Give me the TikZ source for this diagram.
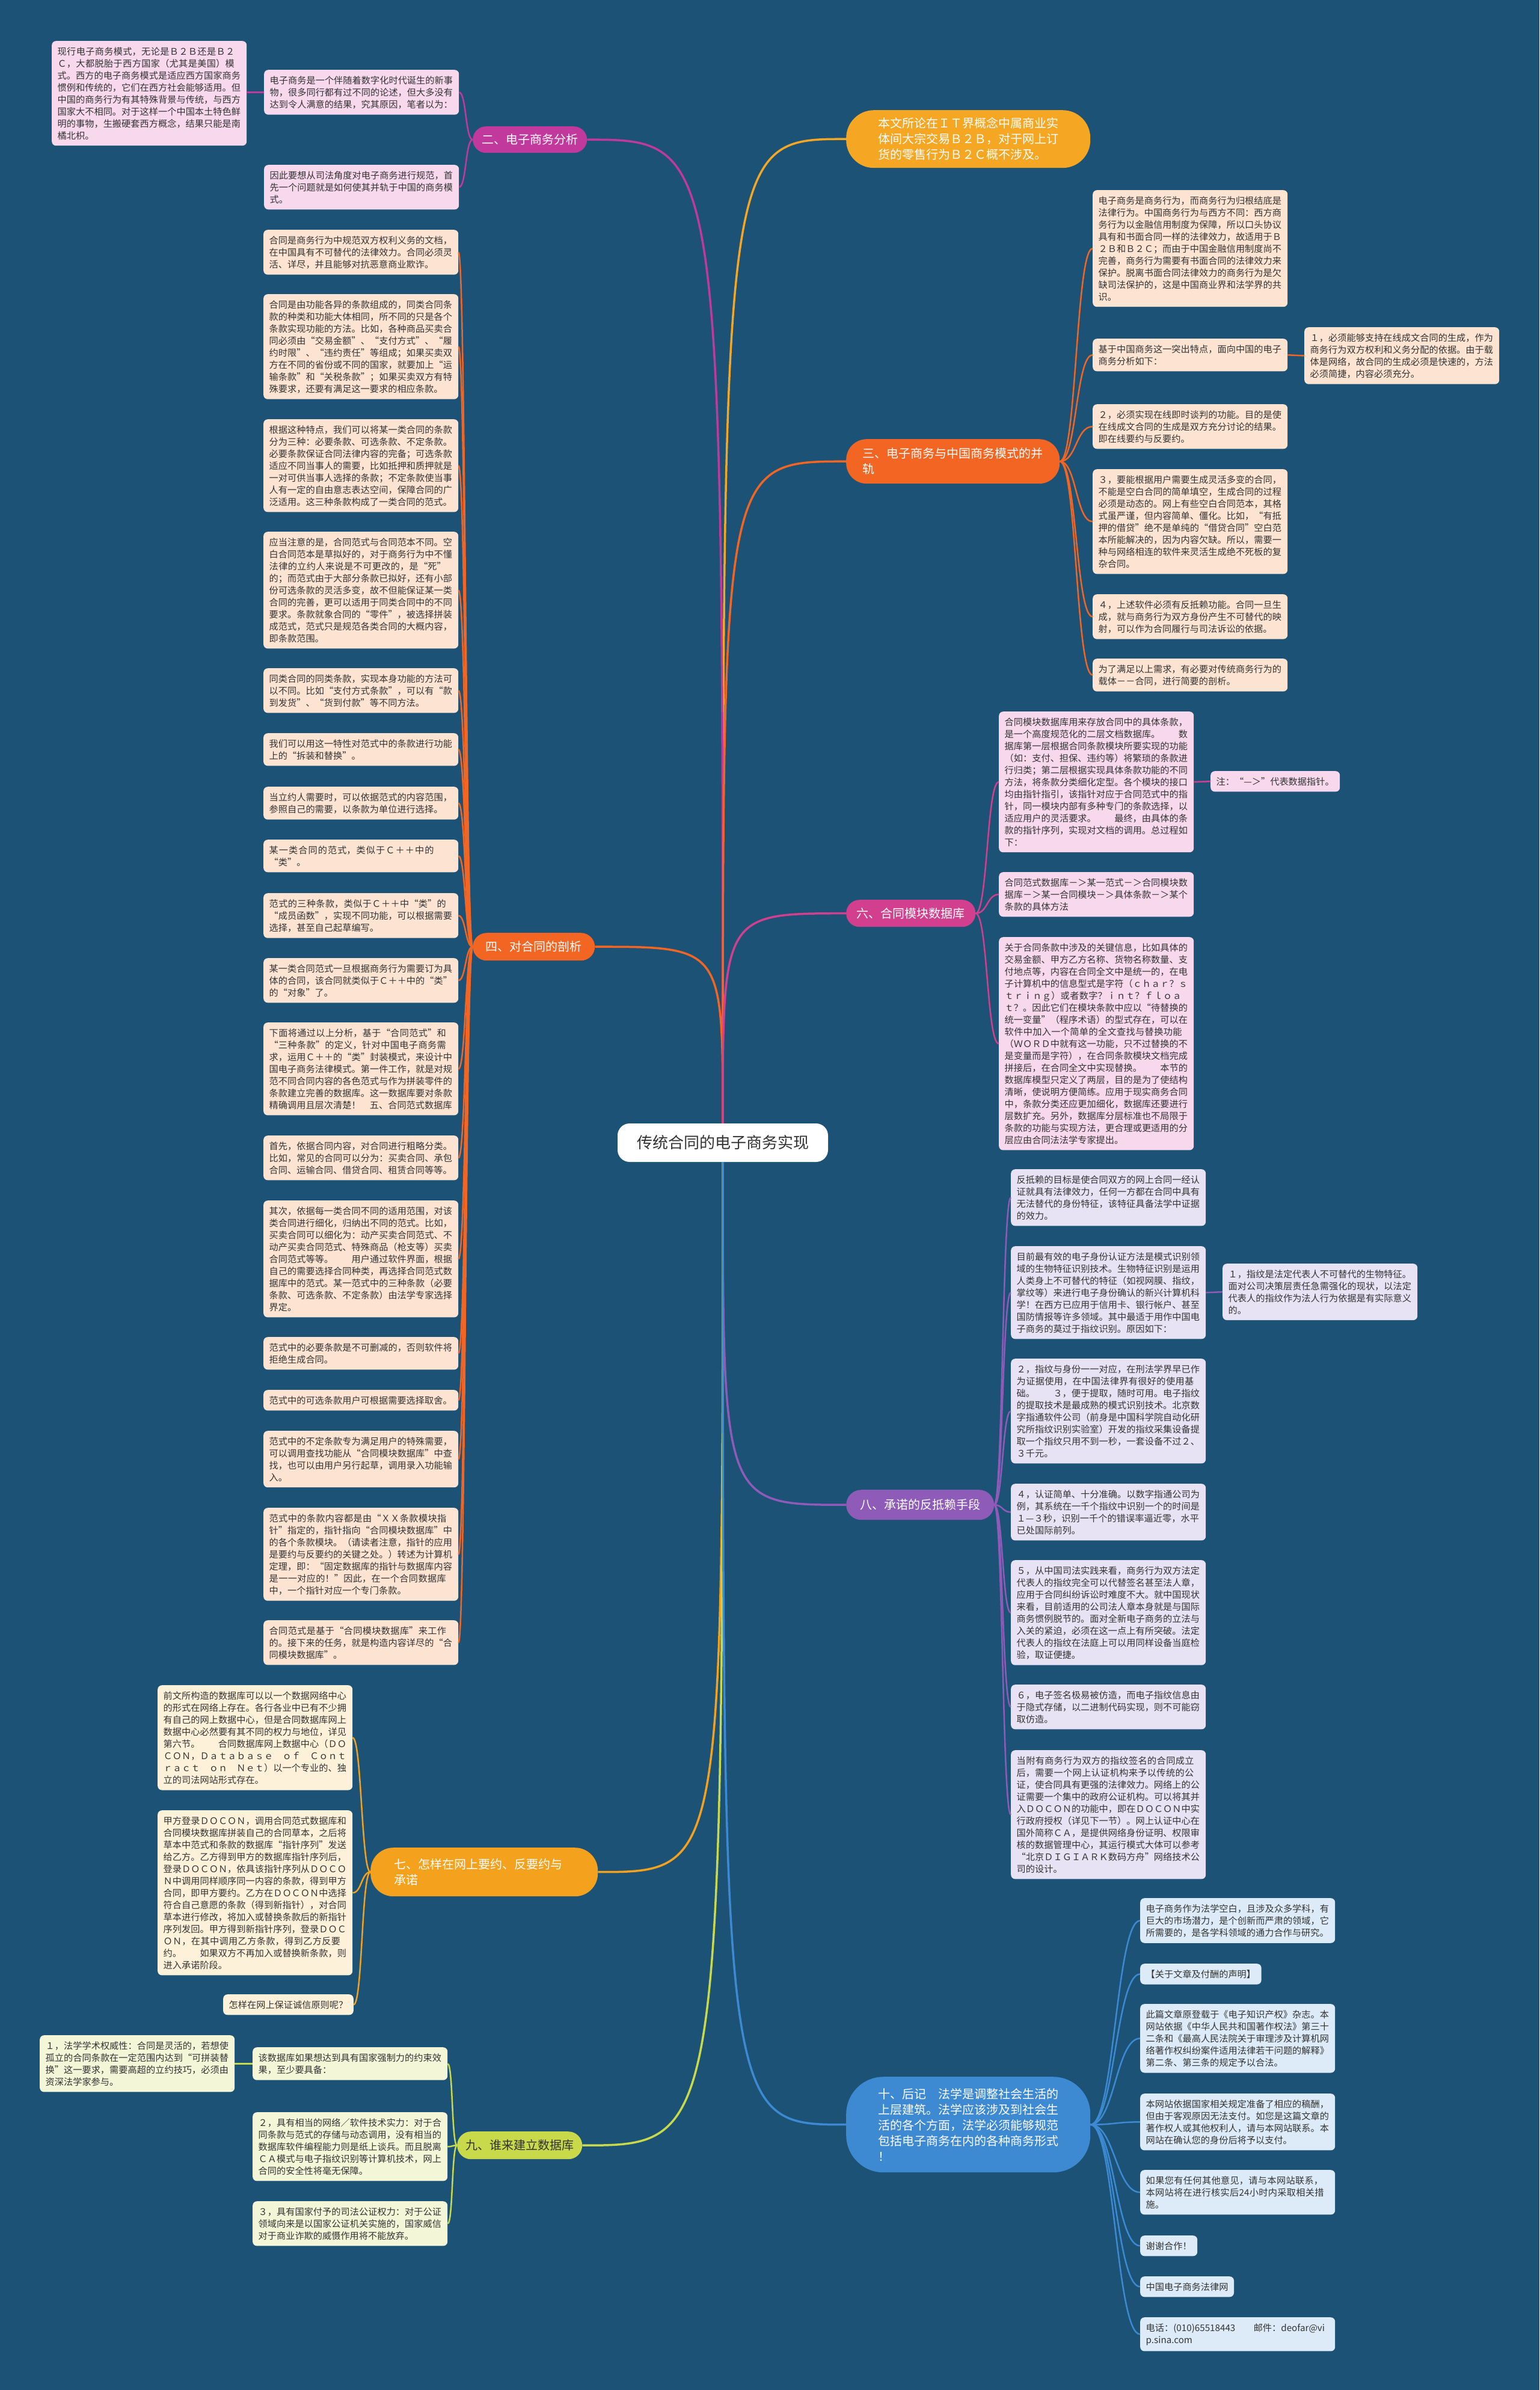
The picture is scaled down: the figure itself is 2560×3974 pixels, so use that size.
\documentclass[tikz,border=0pt]{standalone}
\usepackage{fontspec}
\setmainfont{Noto Sans CJK SC}
\XeTeXlinebreaklocale "zh"
\XeTeXlinebreakskip = 0pt plus 1pt

\definecolor{bgblue}{HTML}{1B5276}
\definecolor{magA}{HTML}{C2399D}
\definecolor{magB}{HTML}{D23F8E}
\definecolor{amber}{HTML}{F5A623}
\definecolor{orangeA}{HTML}{F26522}
\definecolor{purpleA}{HTML}{8E5CB8}
\definecolor{gold}{HTML}{F4A21E}
\definecolor{lime}{HTML}{C8D94A}
\definecolor{skyA}{HTML}{3D8AD3}
\definecolor{pinkfill}{HTML}{F7D8EC}
\definecolor{peachfill}{HTML}{FDE4D2}
\definecolor{lavfill}{HTML}{E7E3F4}
\definecolor{creamfill}{HTML}{FEF1D9}
\definecolor{limefill}{HTML}{F4F6D8}
\definecolor{bluefill}{HTML}{DDEBF8}
\definecolor{inkgray}{HTML}{333333}

\begin{document}
\begin{tikzpicture}[
    x=1pt, y=-1pt,
    root/.style={
        fill=white, text=inkgray, rounded corners=20pt,
        minimum width=350pt, minimum height=64pt,
        font=\fontsize{26}{30}\selectfont
    },
    topic/.style={
        fill=#1, text=white, anchor=north west, inner sep=0pt,
        align=center, font=\fontsize{20}{26}\selectfont
    },
    leaf/.style={
        fill=#1, text=inkgray, anchor=north west, rounded corners=7pt,
        inner xsep=9.5pt, inner ysep=10pt,
        font=\fontsize{15.2}{20}\selectfont
    },
    leafw/.style={leaf=#1, text width=305pt, align=left},
    link/.style={draw=#1, line width=3.5pt},
    sublink/.style={draw=#1, line width=2.5pt}
]

\useasboundingbox (0,0) rectangle (2560,3974);
\fill[bgblue] (0,0) rectangle (2560,3974);

% Nodo central
\node[root] (root) at (1202,1900) {传统合同的电子商务实现};

% Ramas principales
\node[topic=magA, minimum width=190pt, minimum height=44pt, rounded corners=22pt] (t2) at (786,210) {二、电子商务分析};
\node[topic=amber, minimum width=406pt, minimum height=96pt, rounded corners=46pt, text width=300pt, align=left] (t1) at (1407,183) {本文所论在ＩＴ界概念中属商业实\\体间大宗交易Ｂ２Ｂ，对于网上订\\货的零售行为Ｂ２Ｃ概不涉及。};
\node[topic=orangeA, minimum width=355pt, minimum height=74pt, rounded corners=34pt, text width=300pt, align=left] (t3) at (1407,730) {三、电子商务与中国商务模式的并\\轨};
\node[topic=orangeA, minimum width=203pt, minimum height=46pt, rounded corners=23pt] (t4) at (786,1551) {四、对合同的剖析};
\node[topic=magB, minimum width=215pt, minimum height=45pt, rounded corners=22pt] (t6) at (1407,1496) {六、合同模块数据库};
\node[topic=purpleA, minimum width=246pt, minimum height=50pt, rounded corners=25pt] (t8) at (1407,2477) {八、承诺的反抵赖手段};
\node[topic=gold, minimum width=378pt, minimum height=81pt, rounded corners=38pt, text width=300pt, align=left] (t7) at (616,3072) {七、怎样在网上要约、反要约与\\承诺};
\node[topic=lime, text=inkgray, minimum width=208pt, minimum height=46pt, rounded corners=23pt] (t9) at (760,3544) {九、谁来建立数据库};
\node[topic=skyA, minimum width=406pt, minimum height=159pt, rounded corners=62pt, text width=300pt, align=left] (t10) at (1407,3453) {十、后记　法学是调整社会生活的\\上层建筑。法学应该涉及到社会生\\活的各个方面，法学必须能够规范\\包括电子商务在内的各种商务形式\\！};

% Rama dos
\node[leafw=pinkfill] (a0) at (86,68) {现行电子商务模式，无论是Ｂ２Ｂ还是Ｂ２Ｃ，大都脱胎于西方国家（尤其是美国）模式。西方的电子商务模式是适应西方国家商务惯例和传统的，它们在西方社会能够适用。但中国的商务行为有其特殊背景与传统，与西方国家大不相同。对于这样一个中国本土特色鲜明的事物，生搬硬套西方概念，结果只能是南橘北枳。};
\node[leafw=pinkfill] (a1) at (439,116) {电子商务是一个伴随着数字化时代诞生的新事物，很多同行都有过不同的论述，但大多没有达到令人满意的结果，究其原因，笔者以为：};
\node[leafw=pinkfill] (a2) at (439,274) {因此要想从司法角度对电子商务进行规范，首先一个问题就是如何使其并轨于中国的商务模式。};

% Rama tres
\node[leafw=peachfill] (c1) at (1817,316) {电子商务是商务行为，而商务行为归根结底是法律行为。中国商务行为与西方不同：西方商务行为以金融信用制度为保障，所以口头协议具有和书面合同一样的法律效力，故适用于Ｂ２Ｂ和Ｂ２Ｃ；而由于中国金融信用制度尚不完善，商务行为需要有书面合同的法律效力来保护。脱离书面合同法律效力的商务行为是欠缺司法保护的，这是中国商业界和法学界的共识。};
\node[leafw=peachfill] (c2) at (1817,563) {基于中国商务这一突出特点，面向中国的电子商务分析如下：};
\node[leafw=peachfill] (c2a) at (2169,544) {１，必须能够支持在线成文合同的生成，作为商务行为双方权利和义务分配的依据。由于载体是网络，故合同的生成必须是快速的，方法必须简捷，内容必须充分。};
\node[leafw=peachfill] (c3) at (1817,672) {２，必须实现在线即时谈判的功能。目的是使在线成文合同的生成是双方充分讨论的结果。即在线要约与反要约。};
\node[leafw=peachfill] (c4) at (1817,780) {３，要能根据用户需要生成灵活多变的合同，不能是空白合同的简单填空，生成合同的过程必须是动态的。网上有些空白合同范本，其格式虽严谨，但内容简单、僵化。比如，“有抵押的借贷”绝不是单纯的“借贷合同”空白范本所能解决的，因为内容欠缺。所以，需要一种与网络相连的软件来灵活生成绝不死板的复杂合同。};
\node[leafw=peachfill] (c5) at (1817,988) {４，上述软件必须有反抵赖功能。合同一旦生成，就与商务行为双方身份产生不可替代的映射，可以作为合同履行与司法诉讼的依据。};
\node[leafw=peachfill] (c6) at (1817,1095) {为了满足以上需求，有必要对传统商务行为的载体－－合同，进行简要的剖析。};

% Rama cuatro
\node[leafw=peachfill] (b1) at (438,382) {合同是商务行为中规范双方权利义务的文档，在中国具有不可替代的法律效力。合同必须灵活、详尽，并且能够对抗恶意商业欺诈。};
\node[leafw=peachfill] (b2) at (438,489) {合同是由功能各异的条款组成的，同类合同条款的种类和功能大体相同，所不同的只是各个条款实现功能的方法。比如，各种商品买卖合同必须由“交易金额”、“支付方式”、“履约时限”、“违约责任”等组成；如果买卖双方在不同的省份或不同的国家，就要加上“运输条款”和“关税条款”；如果买卖双方有特殊要求，还要有满足这一要求的相应条款。};
\node[leafw=peachfill] (b3) at (438,697) {根据这种特点，我们可以将某一类合同的条款分为三种：必要条款、可选条款、不定条款。必要条款保证合同法律内容的完备；可选条款适应不同当事人的需要，比如抵押和质押就是一对可供当事人选择的条款；不定条款使当事人有一定的自由意志表达空间，保障合同的广泛适用。这三种条款构成了一类合同的范式。};
\node[leafw=peachfill] (b4) at (438,884) {应当注意的是，合同范式与合同范本不同。空白合同范本是草拟好的，对于商务行为中不懂法律的立约人来说是不可更改的，是“死”的；而范式由于大部分条款已拟好，还有小部份可选条款的灵活多变，故不但能保证某一类合同的完善，更可以适用于同类合同中的不同要求。条款就象合同的“零件”，被选择拼装成范式，范式只是规范各类合同的大概内容，即条款范围。};
\node[leafw=peachfill] (b5) at (438,1111) {同类合同的同类条款，实现本身功能的方法可以不同。比如“支付方式条款”，可以有“款到发货”、“货到付款”等不同方法。};
\node[leafw=peachfill] (b6) at (438,1219) {我们可以用这一特性对范式中的条款进行功能上的“拆装和替换”。};
\node[leafw=peachfill] (b7) at (438,1308) {当立约人需要时，可以依据范式的内容范围，参照自己的需要，以条款为单位进行选择。};
\node[leafw=peachfill] (b8) at (438,1396) {某一类合同的范式，类似于Ｃ＋＋中的“类”。};
\node[leafw=peachfill] (b9) at (438,1485) {范式的三种条款，类似于Ｃ＋＋中“类”的“成员函数”，实现不同功能，可以根据需要选择，甚至自己起草编写。};
\node[leafw=peachfill] (b10) at (438,1593) {某一类合同范式一旦根据商务行为需要订为具体的合同，该合同就类似于Ｃ＋＋中的“类”的“对象”了。};
\node[leafw=peachfill] (b11) at (438,1700) {下面将通过以上分析，基于“合同范式”和“三种条款”的定义，针对中国电子商务需求，运用Ｃ＋＋的“类”封装模式，来设计中国电子商务法律模式。第一件工作，就是对规范不同合同内容的各色范式与作为拼装零件的条款建立完善的数据库。这一数据库要对条款精确调用且层次清楚！　五、合同范式数据库};
\node[leafw=peachfill] (b12) at (438,1888) {首先，依据合同内容，对合同进行粗略分类。比如，常见的合同可以分为：买卖合同、承包合同、运输合同、借贷合同、租赁合同等等。};
\node[leafw=peachfill] (b13) at (438,1996) {其次，依据每一类合同不同的适用范围，对该类合同进行细化，归纳出不同的范式。比如，买卖合同可以细化为：动产买卖合同范式、不动产买卖合同范式、特殊商品（枪支等）买卖合同范式等等。　　用户通过软件界面，根据自己的需要选择合同种类，再选择合同范式数据库中的范式。某一范式中的三种条款（必要条款、可选条款、不定条款）由法学专家选择界定。};
\node[leafw=peachfill] (b14) at (438,2223) {范式中的必要条款是不可删减的，否则软件将拒绝生成合同。};
\node[leafw=peachfill] (b15) at (438,2311) {范式中的可选条款用户可根据需要选择取舍。};
\node[leafw=peachfill] (b16) at (438,2379) {范式中的不定条款专为满足用户的特殊需要，可以调用查找功能从“合同模块数据库”中查找，也可以由用户另行起草，调用录入功能输入。};
\node[leafw=peachfill] (b17) at (438,2507) {范式中的条款内容都是由“ＸＸ条款模块指针”指定的，指针指向“合同模块数据库”中的各个条款模块。（请读者注意，指针的应用是要约与反要约的关键之处。）转述为计算机定理，即：“固定数据库的指针与数据库内容是一一对应的！”因此，在一个合同数据库中，一个指针对应一个专门条款。};
\node[leafw=peachfill] (b18) at (438,2694) {合同范式是基于“合同模块数据库”来工作的。接下来的任务，就是构造内容详尽的“合同模块数据库”。};

% Rama seis
\node[leafw=pinkfill] (d1) at (1661,1183) {合同模块数据库用来存放合同中的具体条款，是一个高度规范化的二层文档数据库。　　数据库第一层根据合同条款模块所要实现的功能（如：支付、担保、违约等）将繁琐的条款进行归类；第二层根据实现具体条款功能的不同方法，将条款分类细化定型。各个模块的接口均由指针指引，该指针对应于合同范式中的指针，同一模块内部有多种专门的条款选择，以适应用户的灵活要求。　　最终，由具体的条款的指针序列，实现对文档的调用。总过程如下：};
\node[leaf=pinkfill] (d1a) at (2013,1282) {注：“—＞”代表数据指针。};
\node[leafw=pinkfill] (d2) at (1661,1450) {合同范式数据库－＞某一范式－＞合同模块数据库－＞某一合同模块－＞具体条款－＞某个条款的具体方法};
\node[leafw=pinkfill] (d3) at (1661,1558) {关于合同条款中涉及的关键信息，比如具体的交易金额、甲方乙方名称、货物名称数量、支付地点等，内容在合同全文中是统一的，在电子计算机中的信息型式是字符（ｃｈａｒ？ｓｔｒｉｎｇ）或者数字？ｉｎｔ？ｆｌｏａｔ？。因此它们在模块条款中应以“待替换的统一变量”（程序术语）的型式存在，可以在软件中加入一个简单的全文查找与替换功能（ＷＯＲＤ中就有这一功能，只不过替换的不是变量而是字符），在合同条款模块文档完成拼接后，在合同全文中实现替换。　　本节的数据库模型只定义了两层，目的是为了使结构清晰，使说明方便简练。应用于现实商务合同中，条款分类还应更加细化，数据库还要进行层数扩充。另外，数据库分层标准也不局限于条款的功能与实现方法，更合理或更适用的分层应由合同法法学专家提出。};

% Rama ocho
\node[leafw=lavfill] (e1) at (1681,1944) {反抵赖的目标是使合同双方的网上合同一经认证就具有法律效力，任何一方都在合同中具有无法替代的身份特征，该特征具备法学中证据的效力。};
\node[leafw=lavfill] (e2) at (1681,2072) {目前最有效的电子身份认证方法是模式识别领域的生物特征识别技术。生物特征识别是运用人类身上不可替代的特征（如视网膜、指纹，掌纹等）来进行电子身份确认的新兴计算机科学！在西方已应用于信用卡、银行帐户、甚至国防情报等许多领域。其中最适于用作中国电子商务的莫过于指纹识别。原因如下：};
\node[leafw=lavfill] (e2a) at (2033,2101) {１，指纹是法定代表人不可替代的生物特征。面对公司决策层责任急需强化的现状，以法定代表人的指纹作为法人行为依据是有实际意义的。};
\node[leafw=lavfill] (e3) at (1681,2259) {２，指纹与身份一一对应，在刑法学界早已作为证据使用，在中国法律界有很好的使用基础。　　３，便于提取，随时可用。电子指纹的提取技术是最成熟的模式识别技术。北京数字指通软件公司（前身是中国科学院自动化研究所指纹识别实验室）开发的指纹采集设备提取一个指纹只用不到一秒，一套设备不过２、３千元。};
\node[leafw=lavfill] (e4) at (1681,2467) {４，认证简单、十分准确。以数字指通公司为例，其系统在一千个指纹中识别一个的时间是１—３秒，识别一千个的错误率逼近零，水平已处国际前列。};
\node[leafw=lavfill] (e5) at (1681,2594) {５，从中国司法实践来看，商务行为双方法定代表人的指纹完全可以代替签名甚至法人章，应用于合同纠纷诉讼时难度不大。就中国现状来看，目前适用的公司法人章本身就是与国际商务惯例脱节的。面对全新电子商务的立法与入关的紧迫，必须在这一点上有所突破。法定代表人的指纹在法庭上可以用同样设备当庭检验，取证便捷。};
\node[leafw=lavfill] (e6) at (1681,2801) {６，电子签名极易被仿造，而电子指纹信息由于隐式存储，以二进制代码实现，则不可能窃取仿造。};
\node[leafw=lavfill] (e7) at (1681,2910) {当附有商务行为双方的指纹签名的合同成立后，需要一个网上认证机构来予以传统的公证，使合同具有更强的法律效力。网络上的公证需要一个集中的政府公证机构。可以将其并入ＤＯＣＯＮ的功能中，即在ＤＯＣＯＮ中实行政府授权（详见下一节）。网上认证中心在国外简称ＣＡ，是提供网络身份证明、权限审核的数据管理中心，其运行模式大体可以参考“北京ＤＩＧＩＡＲＫ数码方舟”网络技术公司的设计。};

% Rama siete
\node[leafw=creamfill] (g1) at (262,2802) {前文所构造的数据库可以以一个数据网络中心的形式在网络上存在。各行各业中已有不少拥有自己的网上数据中心，但是合同数据库网上数据中心必然要有其不同的权力与地位，详见第六节。　　合同数据库网上数据中心（ＤＯＣＯＮ，Ｄａｔａｂａｓｅ　ｏｆ　Ｃｏｎｔｒａｃｔ　ｏｎ　Ｎｅｔ）以一个专业的、独立的司法网站形式存在。};
\node[leafw=creamfill] (g2) at (262,3010) {甲方登录ＤＯＣＯＮ，调用合同范式数据库和合同模块数据库拼装自己的合同草本，之后将草本中范式和条款的数据库“指针序列”发送给乙方。乙方得到甲方的数据库指针序列后，登录ＤＯＣＯＮ，依具该指针序列从ＤＯＣＯＮ中调用同样顺序同一内容的条款，得到甲方合同，即甲方要约。乙方在ＤＯＣＯＮ中选择符合自己意愿的条款（得到新指针），对合同草本进行修改，将加入或替换条款后的新指针序列发回。甲方得到新指针序列，登录ＤＯＣＯＮ，在其中调用乙方条款，得到乙方反要约。　　如果双方不再加入或替换新条款，则进入承诺阶段。};
\node[leaf=creamfill] (g3) at (371,3316) {怎样在网上保证诚信原则呢？};

% Rama nueve
\node[leafw=limefill] (h0) at (66,3384) {１，法学学术权威性：合同是灵活的，若想使孤立的合同条款在一定范围内达到“可拼装替换”这一要求，需要高超的立约技巧，必须由资深法学家参与。};
\node[leafw=limefill] (h1) at (420,3404) {该数据库如果想达到具有国家强制力的约束效果，至少要具备：};
\node[leafw=limefill] (h2) at (420,3512) {２，具有相当的网络／软件技术实力：对于合同条款与范式的存储与动态调用，没有相当的数据库软件编程能力则是纸上谈兵。而且脱离ＣＡ模式与电子指纹识别等计算机技术，网上合同的安全性将毫无保障。};
\node[leafw=limefill] (h3) at (420,3660) {３，具有国家付予的司法公证权力：对于公证领域向来是以国家公证机关实施的，国家威信对于商业诈欺的威慑作用将不能放弃。};

% Rama diez
\node[leafw=bluefill] (f1) at (1896,3156) {电子商务作为法学空白，且涉及众多学科，有巨大的市场潜力，是个创新而严肃的领域，它所需要的，是各学科领域的通力合作与研究。};
\node[leaf=bluefill] (f2) at (1896,3265) {【关于文章及付酬的声明】};
\node[leafw=bluefill] (f3) at (1896,3332) {此篇文章原登载于《电子知识产权》杂志。本网站依据《中华人民共和国著作权法》第三十二条和《最高人民法院关于审理涉及计算机网络著作权纠纷案件适用法律若干问题的解释》第二条、第三条的规定予以合法。};
\node[leafw=bluefill] (f4) at (1896,3481) {本网站依据国家相关规定准备了相应的稿酬，但由于客观原因无法支付。如您是这篇文章的著作权人或其他权利人，请与本网站联系。本网站在确认您的身份后将予以支付。};
\node[leafw=bluefill] (f5) at (1896,3608) {如果您有任何其他意见，请与本网站联系，本网站将在进行核实后24小时内采取相关措施。};
\node[leaf=bluefill] (f6) at (1896,3717) {谢谢合作！};
\node[leaf=bluefill] (f7) at (1896,3785) {中国电子商务法律网};
\node[leafw=bluefill] (f8) at (1896,3853) {电话：(010)65518443　　邮件：deofar@vi\\p.sina.com};

% Conectores del nodo central
\draw[link=amber] (root.north) .. controls (root.north |- t1.west) .. (t1.west);
\draw[link=magA] (root.north) .. controls (root.north |- t2.east) .. (t2.east);
\draw[link=orangeA] (root.north) .. controls (root.north |- t3.west) .. (t3.west);
\draw[link=orangeA] (root.north) .. controls (root.north |- t4.east) .. (t4.east);
\draw[link=magB] (root.north) .. controls (root.north |- t6.west) .. (t6.west);
\draw[link=purpleA] (root.south) .. controls (root.south |- t8.west) .. (t8.west);
\draw[link=gold] (root.south) .. controls (root.south |- t7.east) .. (t7.east);
\draw[link=lime] (root.south) .. controls (root.south |- t9.east) .. (t9.east);
\draw[link=skyA] (root.south) .. controls (root.south |- t10.west) .. (t10.west);

% Conectores de las hojas
\draw[sublink=magA] (t2.west) .. controls +(-12,0) and +(12,0) .. (a1.east);
\draw[sublink=magA] (t2.west) .. controls +(-12,0) and +(12,0) .. (a2.east);
\draw[sublink=magA] (a1.west) -- (a1.west -| a0.east);

\draw[sublink=orangeA] (t3.east) .. controls +(28,0) and +(-28,0) .. (c1.west);
\draw[sublink=orangeA] (t3.east) .. controls +(28,0) and +(-28,0) .. (c2.west);
\draw[sublink=orangeA] (t3.east) .. controls +(28,0) and +(-28,0) .. (c3.west);
\draw[sublink=orangeA] (t3.east) .. controls +(28,0) and +(-28,0) .. (c4.west);
\draw[sublink=orangeA] (t3.east) .. controls +(28,0) and +(-28,0) .. (c5.west);
\draw[sublink=orangeA] (t3.east) .. controls +(28,0) and +(-28,0) .. (c6.west);
\draw[sublink=orangeA] (c2.east) .. controls +(14,0) and +(-14,0) .. (c2a.west);

\draw[sublink=orangeA] (t4.west) .. controls +(-12,0) and +(12,0) .. (b1.east);
\draw[sublink=orangeA] (t4.west) .. controls +(-12,0) and +(12,0) .. (b2.east);
\draw[sublink=orangeA] (t4.west) .. controls +(-12,0) and +(12,0) .. (b3.east);
\draw[sublink=orangeA] (t4.west) .. controls +(-12,0) and +(12,0) .. (b4.east);
\draw[sublink=orangeA] (t4.west) .. controls +(-12,0) and +(12,0) .. (b5.east);
\draw[sublink=orangeA] (t4.west) .. controls +(-12,0) and +(12,0) .. (b6.east);
\draw[sublink=orangeA] (t4.west) .. controls +(-12,0) and +(12,0) .. (b7.east);
\draw[sublink=orangeA] (t4.west) .. controls +(-12,0) and +(12,0) .. (b8.east);
\draw[sublink=orangeA] (t4.west) .. controls +(-12,0) and +(12,0) .. (b9.east);
\draw[sublink=orangeA] (t4.west) .. controls +(-12,0) and +(12,0) .. (b10.east);
\draw[sublink=orangeA] (t4.west) .. controls +(-12,0) and +(12,0) .. (b11.east);
\draw[sublink=orangeA] (t4.west) .. controls +(-12,0) and +(12,0) .. (b12.east);
\draw[sublink=orangeA] (t4.west) .. controls +(-12,0) and +(12,0) .. (b13.east);
\draw[sublink=orangeA] (t4.west) .. controls +(-12,0) and +(12,0) .. (b14.east);
\draw[sublink=orangeA] (t4.west) .. controls +(-12,0) and +(12,0) .. (b15.east);
\draw[sublink=orangeA] (t4.west) .. controls +(-12,0) and +(12,0) .. (b16.east);
\draw[sublink=orangeA] (t4.west) .. controls +(-12,0) and +(12,0) .. (b17.east);
\draw[sublink=orangeA] (t4.west) .. controls +(-12,0) and +(12,0) .. (b18.east);

\draw[sublink=magB] (t6.east) .. controls +(20,0) and +(-20,0) .. (d1.west);
\draw[sublink=magB] (t6.east) .. controls +(20,0) and +(-20,0) .. (d2.west);
\draw[sublink=magB] (t6.east) .. controls +(20,0) and +(-20,0) .. (d3.west);
\draw[sublink=magB] (d1.east) .. controls +(14,0) and +(-14,0) .. (d1a.west);

\draw[sublink=purpleA] (t8.east) .. controls +(14,0) and +(-14,0) .. (e1.west);
\draw[sublink=purpleA] (t8.east) .. controls +(14,0) and +(-14,0) .. (e2.west);
\draw[sublink=purpleA] (t8.east) .. controls +(14,0) and +(-14,0) .. (e3.west);
\draw[sublink=purpleA] (t8.east) .. controls +(14,0) and +(-14,0) .. (e4.west);
\draw[sublink=purpleA] (t8.east) .. controls +(14,0) and +(-14,0) .. (e5.west);
\draw[sublink=purpleA] (t8.east) .. controls +(14,0) and +(-14,0) .. (e6.west);
\draw[sublink=purpleA] (t8.east) .. controls +(14,0) and +(-14,0) .. (e7.west);
\draw[sublink=purpleA] (e2.east) .. controls +(14,0) and +(-14,0) .. (e2a.west);

\draw[sublink=gold] (t7.west) .. controls +(-15,0) and +(15,0) .. (g1.east);
\draw[sublink=gold] (t7.west) .. controls +(-15,0) and +(15,0) .. (g2.east);
\draw[sublink=gold] (t7.west) .. controls +(-15,0) and +(15,0) .. (g3.east);

\draw[sublink=lime] (t9.west) .. controls +(-9,0) and +(9,0) .. (h1.east);
\draw[sublink=lime] (t9.west) .. controls +(-9,0) and +(9,0) .. (h2.east);
\draw[sublink=lime] (t9.west) .. controls +(-9,0) and +(9,0) .. (h3.east);
\draw[sublink=lime] (h1.west) -- (h1.west -| h0.east);

\draw[sublink=skyA] (t10.east) .. controls +(40,0) and +(-40,0) .. (f1.west);
\draw[sublink=skyA] (t10.east) .. controls +(40,0) and +(-40,0) .. (f2.west);
\draw[sublink=skyA] (t10.east) .. controls +(40,0) and +(-40,0) .. (f3.west);
\draw[sublink=skyA] (t10.east) .. controls +(40,0) and +(-40,0) .. (f4.west);
\draw[sublink=skyA] (t10.east) .. controls +(40,0) and +(-40,0) .. (f5.west);
\draw[sublink=skyA] (t10.east) .. controls +(40,0) and +(-40,0) .. (f6.west);
\draw[sublink=skyA] (t10.east) .. controls +(40,0) and +(-40,0) .. (f7.west);
\draw[sublink=skyA] (t10.east) .. controls +(40,0) and +(-40,0) .. (f8.west);

\end{tikzpicture}
\end{document}
